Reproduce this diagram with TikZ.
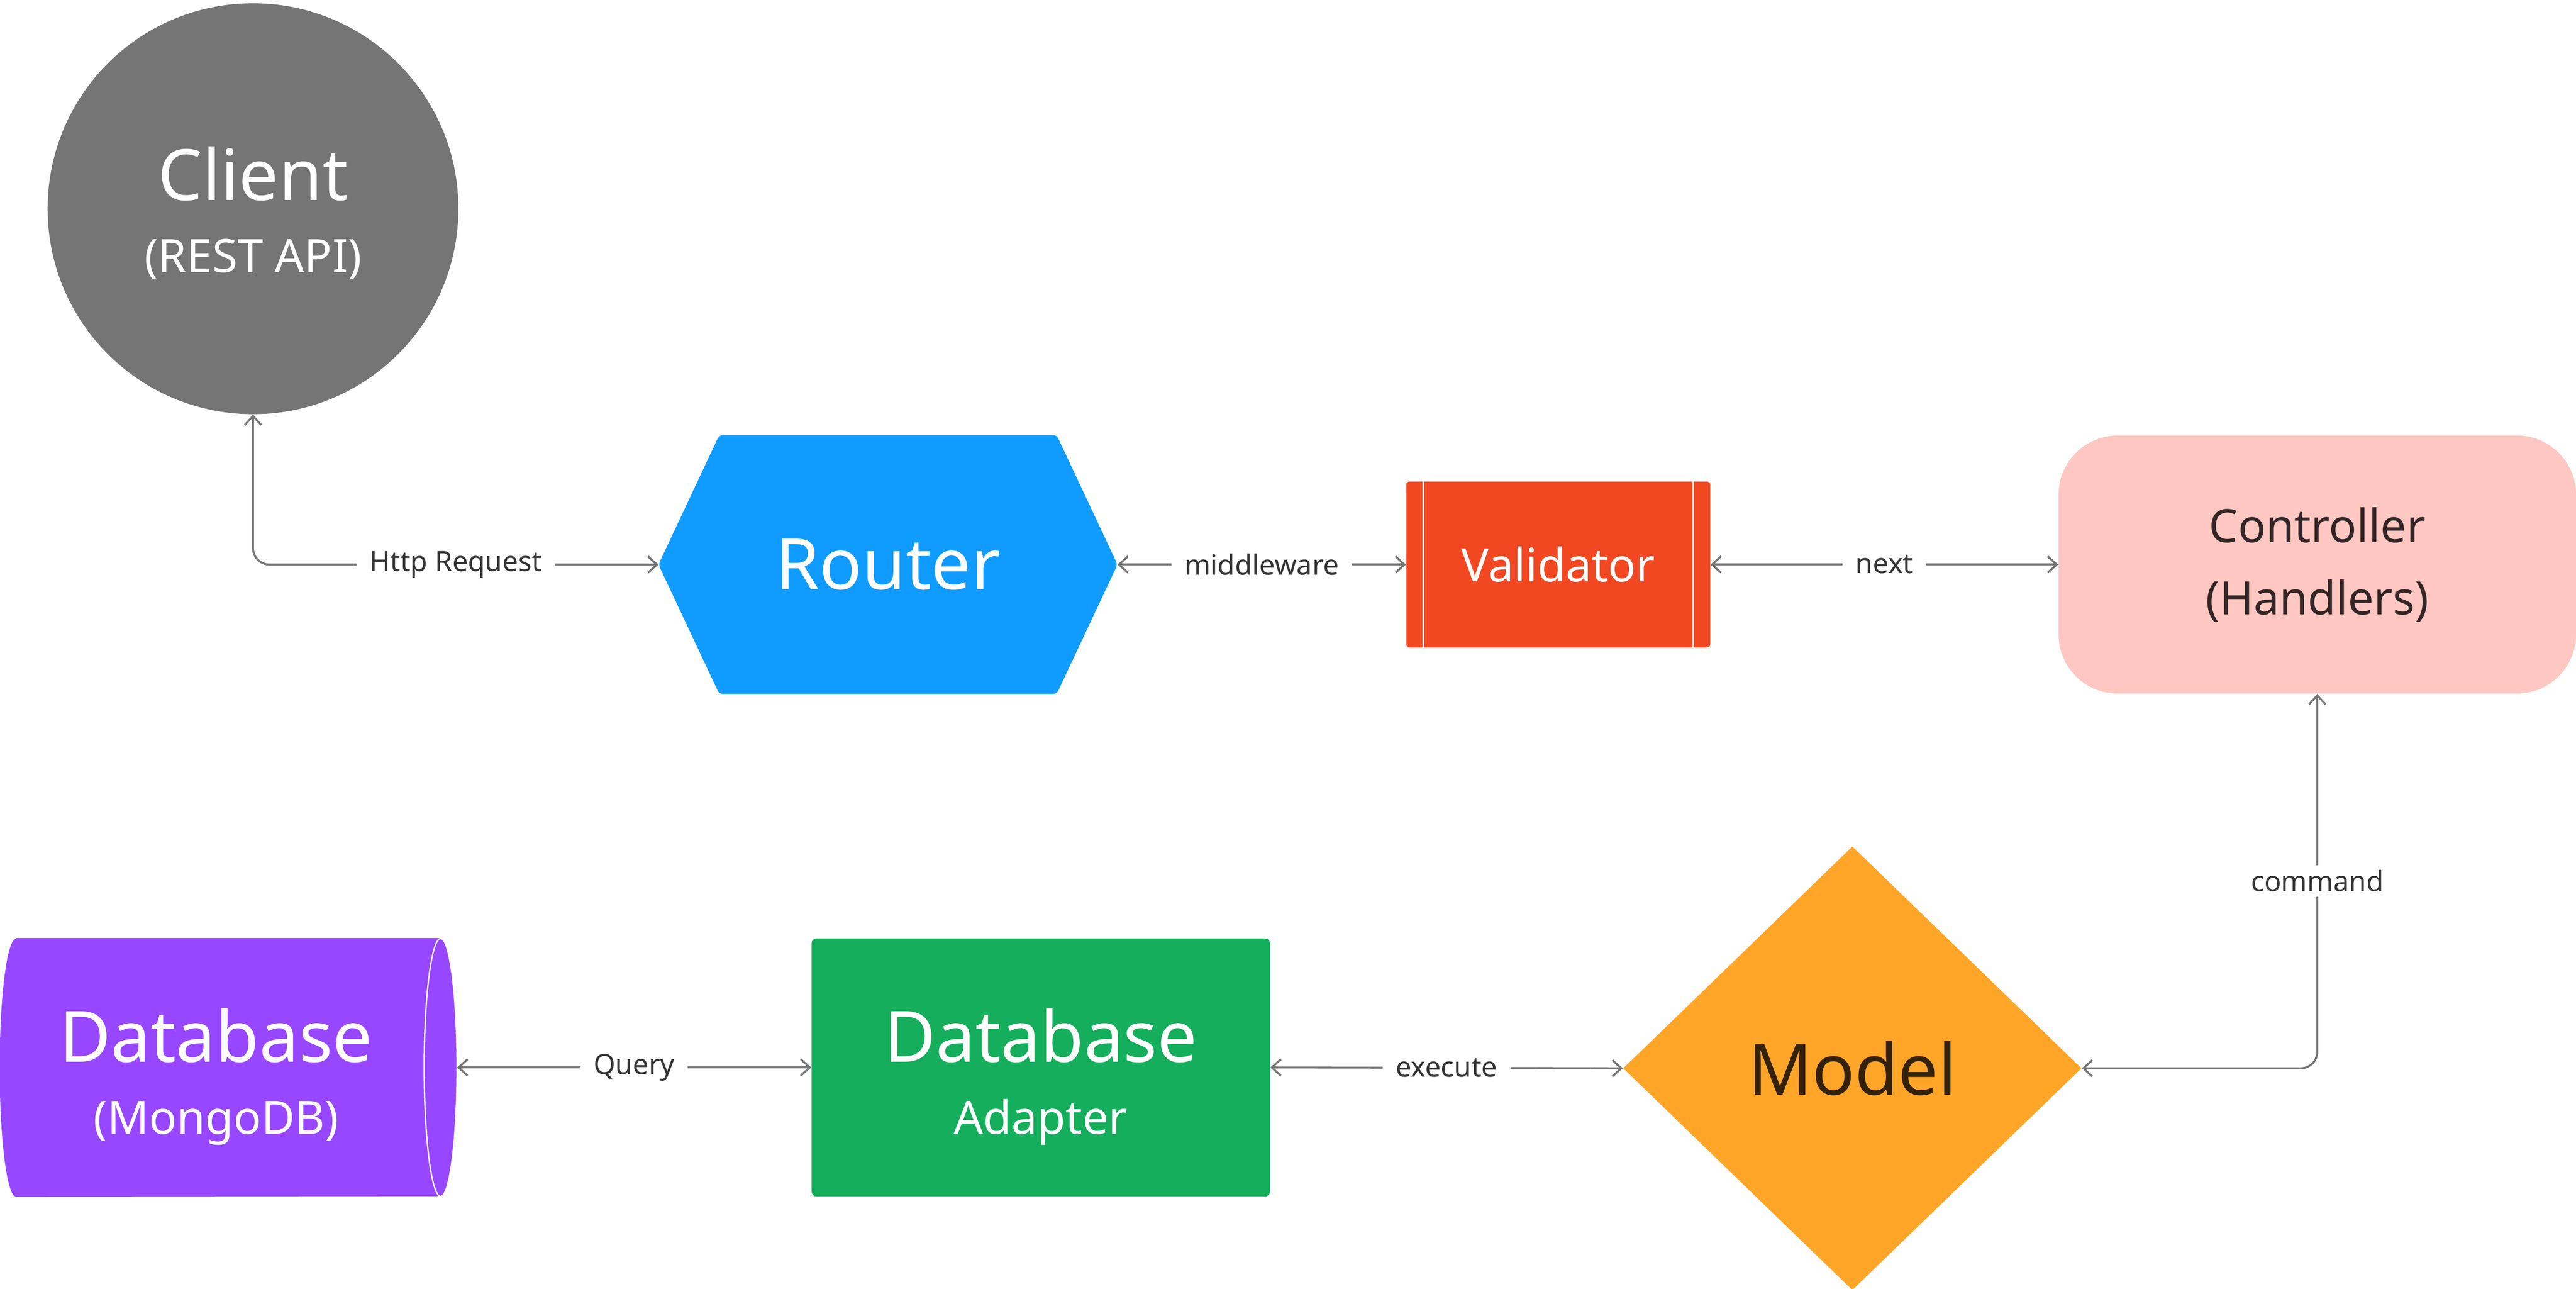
\documentclass[tikz,border=0pt]{standalone}
\usepackage{fontspec}
\setmainfont{Noto Sans}
\usetikzlibrary{arrows.meta,shapes.geometric,backgrounds}

\definecolor{clientgrau}{HTML}{757575}
\definecolor{routerblau}{HTML}{0F9BFF}
\definecolor{validrot}{HTML}{F24822}
\definecolor{ctrlrosa}{HTML}{FFC7C2}
\definecolor{modelorange}{HTML}{FFA629}
\definecolor{adaptgruen}{HTML}{14AE5C}
\definecolor{dblila}{HTML}{9747FF}
\definecolor{linie}{HTML}{757575}
\definecolor{schrift}{HTML}{333333}
\definecolor{ctrlschrift}{HTML}{332526}
\definecolor{modelschrift}{HTML}{33210A}

\newcommand\gross{\fontsize{43}{43}\selectfont}
\newcommand\klein{\fontsize{28}{44}\selectfont}

\begin{document}
\begin{tikzpicture}[x=1pt,y=-1pt,>={Straight Barb[length=5.5pt,width=10pt]},
  verb/.style={draw=linie,line width=1.2pt,<->,rounded corners=10pt},
  lbl/.style={fill=white,text=schrift,font=\fontsize{17}{20}\selectfont,inner xsep=8pt,inner ysep=3pt}]
  \useasboundingbox (0,0) rectangle (1568,784);
  % Knoten
  \node[circle,fill=clientgrau,minimum size=250pt,text=white,align=center,font=\klein] (client) at (154,127) {{\gross\rule{0pt}{38pt}Client}\\(REST API)};
  \node[minimum width=279pt,minimum height=157pt,text=white,font=\gross] (router) at (540.5,343.5) {Router};
  \node[rounded corners=2pt,fill=validrot,minimum width=185pt,minimum height=101pt,text=white,font=\klein] (valid) at (948.5,343.5) {Validator};
  \node[rounded corners=36pt,fill=ctrlrosa,minimum width=315pt,minimum height=157pt,text=ctrlschrift,align=center,font=\klein] (ctrl) at (1410.5,343.5) {Controller\\(Handlers)};
  \node[diamond,fill=modelorange,minimum width=279pt,minimum height=270pt,inner sep=0pt,text=modelschrift,font=\gross] (model) at (1127.5,650) {Model};
  \node[rounded corners=3pt,fill=adaptgruen,minimum width=279pt,minimum height=157pt,text=white,align=center,font=\klein] (adapter) at (633.5,649.5) {{\gross\rule{0pt}{44pt}Database}\\Adapter};
  \node[minimum width=263pt,minimum height=157pt,text=white,align=center,font=\klein] (db) at (131.5,649.5) {{\gross\rule{0pt}{44pt}Database}\\(MongoDB)};
  \coordinate (dbkappe) at ([xshift=15pt]db.east);
  % Hexagon und Zylinder hinter den Texten
  \begin{pgfonlayer}{background}
    \fill[routerblau,rounded corners=2pt] (router.west) -- ([xshift=37pt]router.north west) -- ([xshift=-37pt]router.north east)
      -- (router.east) -- ([xshift=-37pt]router.south east) -- ([xshift=37pt]router.south west) -- cycle;
    \fill[dblila] ([xshift=10pt]db.north west) -- ([xshift=5pt]db.north east) arc (90:-90:10pt and 78.5pt)
      -- ([xshift=10pt]db.south west) arc (270:90:10pt and 78.5pt) -- cycle;
  \end{pgfonlayer}
  \draw[white,line width=.8pt] ([xshift=5pt]db.east) ellipse (10pt and 78.5pt);
  % Striche im Validator
  \draw[white,line width=1.1pt] ([xshift=10.5pt]valid.north west) -- ([xshift=10.5pt]valid.south west)
    ([xshift=-10.5pt]valid.north east) -- ([xshift=-10.5pt]valid.south east);
  % Verbindungen
  \draw[verb] (router.west) -| node[lbl,pos=.25]{Http Request} (client.south);
  \draw[verb] (router.east) -- node[lbl]{middleware} (valid.west);
  \draw[verb] (valid.east) -- node[lbl]{next} (ctrl.west);
  \draw[verb] (model.east) -| node[lbl,pos=.75]{command} (ctrl.south);
  \draw[verb] (adapter.east) -- node[lbl]{execute} (model.west);
  \draw[verb] (dbkappe) -- node[lbl]{Query} (adapter.west);
\end{tikzpicture}
\end{document}
